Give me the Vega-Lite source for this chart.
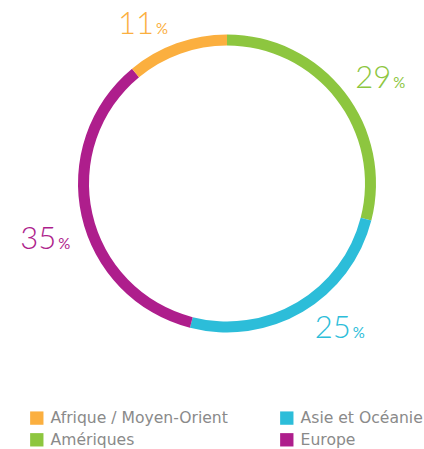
{
  "$schema": "https://vega.github.io/schema/vega-lite/v6.json",
  "autosize": "none",
  "width": 394,
  "height": 367,
  "padding": {"left": 30, "top": 0, "right": 0, "bottom": 82},
  "background": "white",
  "config": {
    "view": {"stroke": null},
    "text": {"font": "Lato", "fontWeight": 300},
    "legend": {
      "orient": "none",
      "legendX": -1,
      "legendY": 410,
      "columns": 2,
      "columnPadding": 51,
      "rowPadding": 5,
      "padding": 0,
      "symbolType": "square",
      "symbolSize": 178,
      "symbolStrokeWidth": 0,
      "symbolOpacity": 1,
      "labelFont": "DejaVu Sans",
      "labelFontSize": 15.6,
      "labelColor": "#8a8a8a",
      "labelOffset": 6,
      "labelLimit": 300
    }
  },
  "data": {
    "values": [
      {"region": "Amériques", "part": 29, "rang": 1},
      {"region": "Asie et Océanie", "part": 25, "rang": 2},
      {"region": "Europe", "part": 35, "rang": 3},
      {"region": "Afrique / Moyen-Orient", "part": 11, "rang": 4}
    ]
  },
  "encoding": {
    "color": {
      "field": "region",
      "type": "nominal",
      "title": null,
      "scale": {
        "domain": ["Afrique / Moyen-Orient", "Amériques", "Asie et Océanie", "Europe"],
        "range": ["#FBAF3F", "#8DC63F", "#2CBDD9", "#AE1E8C"]
      }
    }
  },
  "layer": [
    {
      "mark": {"type": "arc", "outerRadius": 149, "innerRadius": 138},
      "encoding": {
        "theta": {"field": "part", "type": "quantitative", "stack": true, "scale": {"domain": [0, 100]}},
        "order": {"field": "rang", "type": "quantitative"}
      }
    },
    {
      "transform": [
        {"stack": "part", "groupby": [], "sort": [{"field": "rang"}], "as": ["a0", "a1"]},
        {"calculate": "(datum.a0 + datum.a1) / 2", "as": "mid"}
      ],
      "encoding": {
        "theta": {"field": "mid", "type": "quantitative", "scale": {"domain": [0, 100]}}
      },
      "layer": [
        {"transform": [{"filter": "datum.region === 'Afrique / Moyen-Orient'"}],
         "layer": [
          {"mark": {"type": "text", "radius": 180, "dx": -12, "dy": 20, "align": "right", "baseline": "alphabetic", "fontSize": 31}, "encoding": {"text": {"field": "part"}}},
          {"mark": {"type": "text", "radius": 180, "dx": -10, "dy": 20, "align": "left", "baseline": "alphabetic", "fontSize": 15, "fontWeight": 400, "text": "%"}}
         ]},
        {"transform": [{"filter": "datum.region === 'Amériques'"}],
         "layer": [
          {"mark": {"type": "text", "radius": 180, "dx": 22, "dy": 15, "align": "right", "baseline": "alphabetic", "fontSize": 31}, "encoding": {"text": {"field": "part"}}},
          {"mark": {"type": "text", "radius": 180, "dx": 24, "dy": 15, "align": "left", "baseline": "alphabetic", "fontSize": 15, "fontWeight": 400, "text": "%"}}
         ]},
        {"transform": [{"filter": "datum.region === 'Asie et Océanie'"}],
         "layer": [
          {"mark": {"type": "text", "radius": 180, "dx": 32, "dy": 0, "align": "right", "baseline": "alphabetic", "fontSize": 31}, "encoding": {"text": {"field": "part"}}},
          {"mark": {"type": "text", "radius": 180, "dx": 34, "dy": 0, "align": "left", "baseline": "alphabetic", "fontSize": 15, "fontWeight": 400, "text": "%"}}
         ]},
        {"transform": [{"filter": "datum.region === 'Europe'"}],
         "layer": [
          {"mark": {"type": "text", "radius": 180, "dx": 5, "dy": 26, "align": "right", "baseline": "alphabetic", "fontSize": 31}, "encoding": {"text": {"field": "part"}}},
          {"mark": {"type": "text", "radius": 180, "dx": 7, "dy": 26, "align": "left", "baseline": "alphabetic", "fontSize": 15, "fontWeight": 400, "text": "%"}}
         ]}
      ]
    }
  ]
}
